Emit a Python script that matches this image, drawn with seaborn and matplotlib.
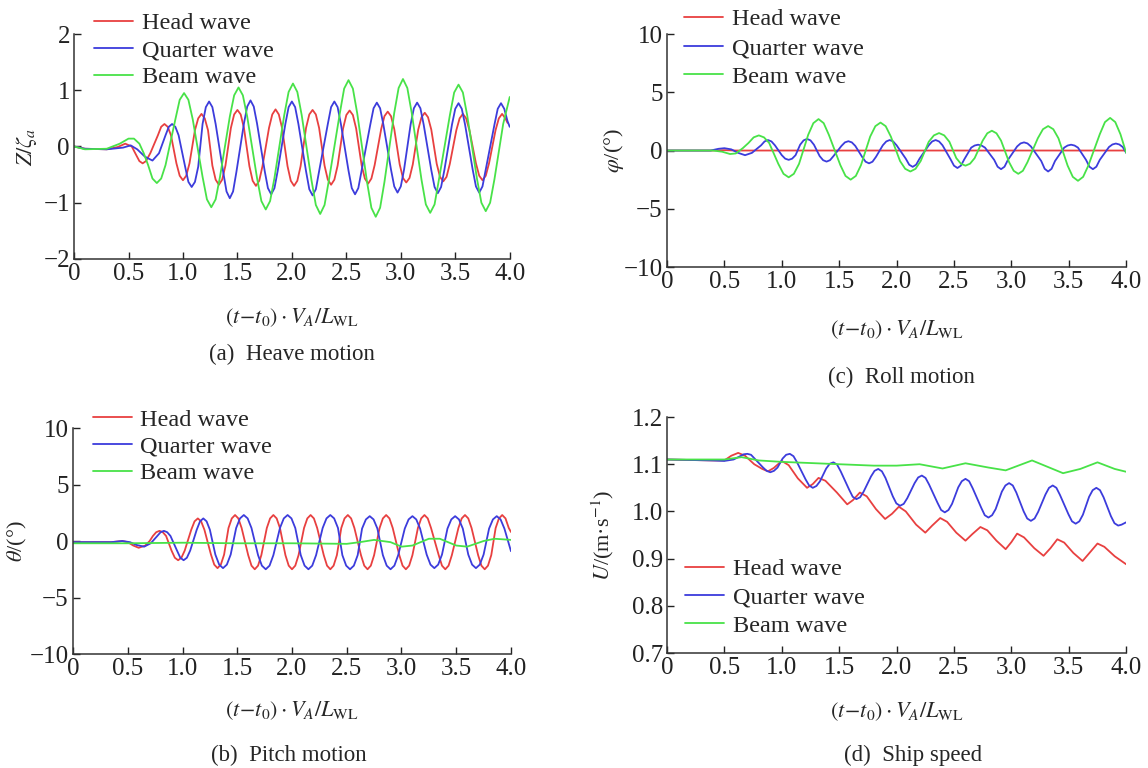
import matplotlib
matplotlib.use("Agg")
import matplotlib.pyplot as plt
import seaborn as sns
import pandas as pd

wave_names = ["Head wave", "Quarter wave", "Beam wave"]
xtick_vals = [0, 0.5, 1.0, 1.5, 2.0, 2.5, 3.0, 3.5, 4.0]
xtick_labels = ["0", "0.5", "1.0", "1.5", "2.0", "2.5", "3.0", "3.5", "4.0"]

# (a) heave Z/zeta_a (peaks, troughs and flanks)
heave_head_t = [0, 0.1, 0.3, 0.4, 0.47, 0.53, 0.57, 0.6, 0.63, 0.66, 0.7,
                0.77, 0.80, 0.83, 0.86, 0.89, 0.94, 0.97, 1.00, 1.03, 1.06,
                1.11, 1.14, 1.17, 1.20, 1.23, 1.27, 1.30, 1.33, 1.36, 1.39,
                1.44, 1.47, 1.50, 1.53, 1.56, 1.61, 1.64, 1.67, 1.70, 1.73,
                1.79, 1.82, 1.85, 1.88, 1.91, 1.96, 1.99, 2.02, 2.05, 2.08,
                2.13, 2.16, 2.19, 2.22, 2.25, 2.30, 2.33, 2.36, 2.39, 2.42,
                2.47, 2.50, 2.53, 2.56, 2.59, 2.64, 2.67, 2.70, 2.73, 2.76,
                2.82, 2.85, 2.88, 2.91, 2.94, 2.99, 3.02, 3.05, 3.08, 3.11,
                3.16, 3.19, 3.22, 3.25, 3.28, 3.33, 3.36, 3.39, 3.42, 3.45,
                3.51, 3.54, 3.57, 3.60, 3.63, 3.69, 3.72, 3.75, 3.78, 3.81,
                3.87, 3.90, 3.93, 3.96, 3.98]
heave_head = [0, -0.04, -0.05, -0.01, 0.05, 0.0, -0.15, -0.26, -0.3, -0.26, -0.12,
              0.2, 0.35, 0.4, 0.35, 0.2, -0.3, -0.52, -0.6, -0.52, -0.3,
              0.29, 0.5, 0.58, 0.5, 0.29, -0.34, -0.59, -0.68, -0.59, -0.34,
              0.33, 0.57, 0.65, 0.57, 0.33, -0.35, -0.61, -0.7, -0.61, -0.35,
              0.33, 0.57, 0.66, 0.57, 0.33, -0.35, -0.61, -0.7, -0.61, -0.35,
              0.33, 0.57, 0.65, 0.57, 0.33, -0.34, -0.59, -0.68, -0.59, -0.34,
              0.32, 0.56, 0.64, 0.56, 0.32, -0.33, -0.57, -0.66, -0.57, -0.33,
              0.31, 0.54, 0.62, 0.54, 0.31, -0.32, -0.56, -0.64, -0.56, -0.32,
              0.3, 0.52, 0.6, 0.52, 0.3, -0.31, -0.54, -0.62, -0.54, -0.31,
              0.29, 0.5, 0.58, 0.5, 0.29, -0.3, -0.52, -0.6, -0.52, -0.3,
              0.29, 0.5, 0.58, 0.5, 0.42]
heave_quarter_t = [0, 0.1, 0.3, 0.45, 0.52, 0.58, 0.65, 0.72, 0.78,
                   0.84, 0.87, 0.90, 0.93, 0.96, 1.02, 1.05, 1.08, 1.11, 1.14,
                   1.18, 1.21, 1.24, 1.27, 1.30, 1.37, 1.40, 1.43, 1.46, 1.49,
                   1.56, 1.59, 1.62, 1.65, 1.68, 1.75, 1.78, 1.81, 1.84, 1.87,
                   1.94, 1.97, 2.00, 2.03, 2.06, 2.13, 2.16, 2.19, 2.22, 2.25,
                   2.33, 2.36, 2.39, 2.42, 2.45, 2.52, 2.55, 2.58, 2.61, 2.64,
                   2.72, 2.75, 2.78, 2.81, 2.84, 2.91, 2.94, 2.97, 3.00, 3.03,
                   3.09, 3.12, 3.15, 3.18, 3.21, 3.28, 3.31, 3.34, 3.37, 3.40,
                   3.47, 3.50, 3.53, 3.56, 3.59, 3.66, 3.69, 3.72, 3.75, 3.78,
                   3.86, 3.89, 3.92, 3.95, 3.98, 4.0]
heave_quarter = [0, -0.04, -0.05, -0.02, 0.02, -0.05, -0.18, -0.25, -0.12,
                 0.2, 0.35, 0.4, 0.35, 0.2, -0.36, -0.63, -0.72, -0.63, -0.36,
                 0.4, 0.7, 0.8, 0.7, 0.4, -0.46, -0.8, -0.92, -0.8, -0.46,
                 0.41, 0.71, 0.82, 0.71, 0.41, -0.43, -0.74, -0.85, -0.74, -0.43,
                 0.4, 0.7, 0.8, 0.7, 0.4, -0.44, -0.76, -0.87, -0.76, -0.44,
                 0.4, 0.7, 0.8, 0.7, 0.4, -0.43, -0.74, -0.85, -0.74, -0.43,
                 0.39, 0.68, 0.78, 0.68, 0.39, -0.41, -0.71, -0.82, -0.71, -0.41,
                 0.39, 0.68, 0.78, 0.68, 0.39, -0.42, -0.72, -0.83, -0.72, -0.42,
                 0.39, 0.67, 0.77, 0.67, 0.39, -0.41, -0.71, -0.82, -0.71, -0.41,
                 0.39, 0.67, 0.77, 0.67, 0.45, 0.35]
heave_beam_t = [0, 0.1, 0.3, 0.42, 0.5, 0.55, 0.6, 0.64,
                0.68, 0.72, 0.76, 0.80, 0.84, 0.93, 0.97, 1.01, 1.05, 1.09,
                1.18, 1.22, 1.26, 1.30, 1.34, 1.43, 1.47, 1.51, 1.55, 1.59,
                1.68, 1.72, 1.76, 1.80, 1.84, 1.93, 1.97, 2.01, 2.05, 2.09,
                2.18, 2.22, 2.26, 2.30, 2.34, 2.44, 2.48, 2.52, 2.56, 2.60,
                2.69, 2.73, 2.77, 2.81, 2.85, 2.94, 2.98, 3.02, 3.06, 3.10,
                3.19, 3.23, 3.27, 3.31, 3.35, 3.45, 3.49, 3.53, 3.57, 3.61,
                3.70, 3.74, 3.78, 3.82, 3.86, 3.94, 4.0]
heave_beam = [0, -0.05, -0.04, 0.05, 0.14, 0.14, 0.05, -0.12,
              -0.33, -0.57, -0.65, -0.57, -0.33, 0.48, 0.83, 0.95, 0.83, 0.48,
              -0.54, -0.94, -1.08, -0.94, -0.54, 0.53, 0.91, 1.05, 0.91, 0.53,
              -0.56, -0.97, -1.12, -0.97, -0.56, 0.56, 0.97, 1.12, 0.97, 0.56,
              -0.6, -1.04, -1.2, -1.04, -0.6, 0.59, 1.03, 1.18, 1.03, 0.59,
              -0.63, -1.09, -1.25, -1.09, -0.63, 0.6, 1.04, 1.2, 1.04, 0.6,
              -0.59, -1.03, -1.18, -1.03, -0.59, 0.55, 0.96, 1.1, 0.96, 0.55,
              -0.58, -1.0, -1.15, -1.0, -0.58, 0.4, 0.88]

# (c) roll phi (deg)
roll_head_t = [0, 0.4, 0.5, 0.6, 4.0]
roll_head = [0, 0, 0.03, 0, 0]
roll_quarter_t = [0, 0.38, 0.45, 0.5, 0.56, 0.62, 0.68, 0.74,
                  0.82, 0.85, 0.88, 0.91, 0.94, 1.00, 1.03, 1.06, 1.09, 1.12,
                  1.16, 1.19, 1.22, 1.25, 1.28, 1.33, 1.36, 1.39, 1.42, 1.45,
                  1.52, 1.55, 1.58, 1.61, 1.64, 1.70, 1.73, 1.76, 1.79, 1.82,
                  1.88, 1.91, 1.94, 1.97, 2.00, 2.08, 2.11, 2.14, 2.17, 2.20,
                  2.28, 2.31, 2.34, 2.37, 2.40, 2.47, 2.50, 2.53, 2.56, 2.59,
                  2.65, 2.68, 2.71, 2.74, 2.77, 2.85, 2.88, 2.91, 2.94, 2.97,
                  3.05, 3.08, 3.11, 3.14, 3.17, 3.26, 3.29, 3.32, 3.35, 3.38,
                  3.46, 3.49, 3.52, 3.55, 3.58, 3.65, 3.68, 3.71, 3.74, 3.77,
                  3.85, 3.88, 3.91, 3.94, 3.97, 4.0]
roll_quarter = [0, 0, 0.15, 0.2, 0.1, -0.2, -0.4, -0.2,
                0.45, 0.78, 0.9, 0.78, 0.45, -0.4, -0.7, -0.8, -0.7, -0.4,
                0.5, 0.87, 1.0, 0.87, 0.5, -0.48, -0.83, -0.95, -0.83, -0.48,
                0.4, 0.7, 0.8, 0.7, 0.4, -0.55, -0.96, -1.1, -0.96, -0.55,
                0.45, 0.78, 0.9, 0.78, 0.45, -0.7, -1.22, -1.4, -1.22, -0.7,
                0.45, 0.78, 0.9, 0.78, 0.45, -0.75, -1.3, -1.5, -1.3, -0.75,
                0.25, 0.43, 0.5, 0.43, 0.25, -0.8, -1.39, -1.6, -1.39, -0.8,
                0.35, 0.61, 0.7, 0.61, 0.35, -0.9, -1.57, -1.8, -1.57, -0.9,
                0.25, 0.43, 0.5, 0.43, 0.25, -0.8, -1.39, -1.6, -1.39, -0.8,
                0.3, 0.52, 0.6, 0.52, 0.3, -0.2]
roll_beam_t = [0, 0.4, 0.48, 0.55, 0.6, 0.66,
               0.71, 0.755, 0.80, 0.845, 0.89, 0.97, 1.015, 1.06, 1.105, 1.15,
               1.23, 1.275, 1.32, 1.365, 1.41, 1.51, 1.555, 1.60, 1.645, 1.69,
               1.77, 1.815, 1.86, 1.905, 1.95, 2.03, 2.075, 2.12, 2.165, 2.21,
               2.28, 2.325, 2.37, 2.415, 2.46, 2.52, 2.56, 2.60, 2.64, 2.68,
               2.75, 2.79, 2.83, 2.87, 2.91, 2.98, 3.02, 3.06, 3.10, 3.14,
               3.23, 3.275, 3.32, 3.365, 3.41, 3.49, 3.535, 3.58, 3.625, 3.67,
               3.77, 3.815, 3.86, 3.905, 3.95, 4.0]
roll_beam = [0, 0, -0.1, -0.3, -0.25, 0.2,
             0.65, 1.13, 1.3, 1.13, 0.65, -1.15, -2.0, -2.3, -2.0, -1.15,
             1.35, 2.35, 2.7, 2.35, 1.35, -1.25, -2.18, -2.5, -2.18, -1.25,
             1.2, 2.09, 2.4, 2.09, 1.2, -0.9, -1.57, -1.8, -1.57, -0.9,
             0.75, 1.3, 1.5, 1.3, 0.75, -0.65, -1.13, -1.3, -1.13, -0.65,
             0.85, 1.48, 1.7, 1.48, 0.85, -1.0, -1.74, -2.0, -1.74, -1.0,
             1.05, 1.83, 2.1, 1.83, 1.05, -1.3, -2.26, -2.6, -2.26, -1.3,
             1.4, 2.44, 2.8, 2.44, 1.4, -0.2]

# (b) pitch theta (deg)
pitch_head_t = [0, 0.35, 0.45, 0.5, 0.55, 0.6, 0.66, 0.70,
                0.73, 0.76, 0.79, 0.82, 0.85, 0.90, 0.93, 0.96, 0.99, 1.02,
                1.08, 1.11, 1.14, 1.17, 1.20, 1.26, 1.29, 1.32, 1.35, 1.38,
                1.42, 1.45, 1.48, 1.51, 1.54, 1.60, 1.63, 1.66, 1.69, 1.72,
                1.77, 1.80, 1.83, 1.86, 1.89, 1.94, 1.97, 2.00, 2.03, 2.06,
                2.11, 2.14, 2.17, 2.20, 2.23, 2.29, 2.32, 2.35, 2.38, 2.41,
                2.45, 2.48, 2.51, 2.54, 2.57, 2.63, 2.66, 2.69, 2.72, 2.75,
                2.80, 2.83, 2.86, 2.89, 2.92, 2.98, 3.01, 3.04, 3.07, 3.10,
                3.15, 3.18, 3.21, 3.24, 3.27, 3.34, 3.37, 3.40, 3.43, 3.46,
                3.52, 3.55, 3.58, 3.61, 3.64, 3.70, 3.73, 3.76, 3.79, 3.82,
                3.86, 3.89, 3.92, 3.95, 3.98, 4.0]
pitch_head = [-0.1, -0.1, 0.0, -0.1, -0.4, -0.6, -0.4, 0.0,
              0.45, 0.78, 0.9, 0.78, 0.45, -0.85, -1.48, -1.7, -1.48, -0.85,
              1.0, 1.74, 2.0, 1.74, 1.0, -1.2, -2.09, -2.4, -2.09, -1.2,
              1.15, 2.0, 2.3, 2.0, 1.15, -1.25, -2.18, -2.5, -2.18, -1.25,
              1.15, 2.0, 2.3, 2.0, 1.15, -1.25, -2.18, -2.5, -2.18, -1.25,
              1.15, 2.0, 2.3, 2.0, 1.15, -1.25, -2.18, -2.5, -2.18, -1.25,
              1.15, 2.0, 2.3, 2.0, 1.15, -1.25, -2.18, -2.5, -2.18, -1.25,
              1.15, 2.0, 2.3, 2.0, 1.15, -1.25, -2.18, -2.5, -2.18, -1.25,
              1.15, 2.0, 2.3, 2.0, 1.15, -1.25, -2.18, -2.5, -2.18, -1.25,
              1.15, 2.0, 2.3, 2.0, 1.15, -1.25, -2.18, -2.5, -2.18, -1.25,
              1.15, 2.0, 2.3, 2.0, 1.15, 0.8]
pitch_quarter_t = [0, 0.35, 0.45, 0.52, 0.58, 0.65, 0.71,
                   0.77, 0.80, 0.83, 0.86, 0.89, 0.95, 0.98, 1.01, 1.04, 1.07,
                   1.13, 1.16, 1.19, 1.22, 1.25, 1.30, 1.335, 1.37, 1.405, 1.44,
                   1.49, 1.525, 1.56, 1.595, 1.63, 1.69, 1.725, 1.76, 1.795, 1.83,
                   1.89, 1.925, 1.96, 1.995, 2.03, 2.08, 2.115, 2.15, 2.185, 2.22,
                   2.28, 2.315, 2.35, 2.385, 2.42, 2.46, 2.495, 2.53, 2.565, 2.60,
                   2.64, 2.675, 2.71, 2.745, 2.78, 2.83, 2.865, 2.90, 2.935, 2.97,
                   3.03, 3.065, 3.10, 3.135, 3.17, 3.23, 3.265, 3.30, 3.335, 3.37,
                   3.42, 3.455, 3.49, 3.525, 3.56, 3.61, 3.645, 3.68, 3.715, 3.75,
                   3.80, 3.835, 3.87, 3.905, 3.94, 4.0]
pitch_quarter = [-0.1, -0.1, 0.0, -0.1, -0.35, -0.5, -0.2,
                 0.45, 0.78, 0.9, 0.78, 0.45, -0.85, -1.48, -1.7, -1.48, -0.85,
                 1.0, 1.74, 2.0, 1.74, 1.0, -1.2, -2.09, -2.4, -2.09, -1.2,
                 1.15, 2.0, 2.3, 2.0, 1.15, -1.25, -2.18, -2.5, -2.18, -1.25,
                 1.15, 2.0, 2.3, 2.0, 1.15, -1.25, -2.18, -2.5, -2.18, -1.25,
                 1.15, 2.0, 2.3, 2.0, 1.15, -1.25, -2.18, -2.5, -2.18, -1.25,
                 1.1, 1.91, 2.2, 1.91, 1.1, -1.25, -2.18, -2.5, -2.18, -1.25,
                 1.1, 1.91, 2.2, 1.91, 1.1, -1.2, -2.09, -2.4, -2.09, -1.2,
                 1.1, 1.91, 2.2, 1.91, 1.1, -1.2, -2.09, -2.4, -2.09, -1.2,
                 1.1, 1.91, 2.2, 1.91, 1.1, -0.9]
pitch_beam_t = [0, 0.5, 1.0, 1.5, 2.0, 2.5, 2.62, 2.75, 2.9, 3.0, 3.1, 3.25, 3.35, 3.5, 3.6, 3.75, 3.85, 4.0]
pitch_beam = [-0.2, -0.2, -0.15, -0.2, -0.2, -0.25, -0.1, 0.1, -0.1, -0.5, -0.4, 0.2, 0.2, -0.4, -0.5, 0.0, 0.2, 0.1]

# (d) ship speed U (m/s)
speed_head_t = [0, 0.4, 0.5, 0.56, 0.62, 0.68, 0.76, 0.83, 0.88, 0.93, 1.0, 1.06, 1.14, 1.22, 1.27, 1.32,
                1.38, 1.48, 1.57, 1.62, 1.68, 1.74, 1.82, 1.9, 1.96, 2.02, 2.08, 2.17, 2.25, 2.31, 2.38,
                2.44, 2.52, 2.6, 2.66, 2.73, 2.79, 2.87, 2.95, 3.0, 3.05, 3.11, 3.2, 3.28, 3.34, 3.4,
                3.46, 3.54, 3.62, 3.68, 3.75, 3.81, 3.9, 4.0]
speed_head = [1.11, 1.108, 1.108, 1.118, 1.124, 1.118, 1.1, 1.09, 1.085, 1.092, 1.107, 1.098, 1.07, 1.05, 1.058, 1.071,
              1.065, 1.04, 1.015, 1.024, 1.04, 1.032, 1.005, 0.984, 0.995, 1.01, 1.0, 0.972, 0.955, 0.97, 0.986,
              0.978, 0.955, 0.938, 0.952, 0.967, 0.96, 0.938, 0.92, 0.935, 0.953, 0.945, 0.922, 0.906, 0.922, 0.941,
              0.934, 0.912, 0.895, 0.912, 0.932, 0.925, 0.905, 0.888]
speed_quarter_t = [0, 0.4, 0.5, 0.58,
                   0.637, 0.668, 0.70, 0.732, 0.763, 0.837, 0.868, 0.90, 0.932, 0.963,
                   1.007, 1.038, 1.07, 1.102, 1.133, 1.207, 1.238, 1.27, 1.302, 1.333,
                   1.387, 1.418, 1.45, 1.482, 1.513, 1.587, 1.618, 1.65, 1.682, 1.713,
                   1.777, 1.808, 1.84, 1.872, 1.903, 1.967, 1.998, 2.03, 2.062, 2.093,
                   2.157, 2.188, 2.22, 2.252, 2.283, 2.357, 2.388, 2.42, 2.452, 2.483,
                   2.537, 2.568, 2.60, 2.632, 2.663, 2.737, 2.768, 2.80, 2.832, 2.863,
                   2.917, 2.948, 2.98, 3.012, 3.043, 3.107, 3.138, 3.17, 3.202, 3.233,
                   3.297, 3.328, 3.36, 3.392, 3.423, 3.497, 3.528, 3.56, 3.592, 3.623,
                   3.677, 3.708, 3.74, 3.772, 3.803, 3.867, 3.898, 3.93, 3.96, 4.0]
speed_quarter = [1.11, 1.108, 1.107, 1.11,
                 1.117, 1.121, 1.122, 1.12, 1.112, 1.093, 1.086, 1.083, 1.086, 1.093,
                 1.112, 1.12, 1.122, 1.117, 1.104, 1.068, 1.055, 1.05, 1.054, 1.064,
                 1.091, 1.101, 1.104, 1.099, 1.085, 1.046, 1.031, 1.026, 1.03, 1.042,
                 1.074, 1.086, 1.09, 1.085, 1.071, 1.032, 1.017, 1.012, 1.016, 1.028,
                 1.06, 1.072, 1.076, 1.071, 1.057, 1.018, 1.003, 0.998, 1.003, 1.016,
                 1.051, 1.064, 1.069, 1.064, 1.049, 1.008, 0.992, 0.987, 0.992, 1.005,
                 1.042, 1.055, 1.06, 1.055, 1.04, 1.0, 0.985, 0.98, 0.985, 0.999,
                 1.036, 1.05, 1.055, 1.05, 1.035, 0.994, 0.979, 0.974, 0.979, 0.993,
                 1.031, 1.045, 1.05, 1.045, 1.03, 0.99, 0.975, 0.97, 0.972, 0.977]
speed_beam_t = [0, 0.5, 0.65, 0.8, 1.0, 1.5, 1.8, 2.0, 2.2, 2.4, 2.6, 2.8, 2.95, 3.18, 3.45, 3.6, 3.75, 3.9, 4.0]
speed_beam = [1.11, 1.11, 1.115, 1.108, 1.105, 1.10, 1.097, 1.097, 1.10, 1.091, 1.102, 1.093, 1.087, 1.108,
              1.081, 1.09, 1.104, 1.09, 1.084]

sns.set_theme(style="ticks")
plt.rcParams["font.family"] = ["Liberation Serif", "DejaVu Serif"]
plt.rcParams["mathtext.fontset"] = "stix"
plt.rcParams["xtick.direction"] = "in"
plt.rcParams["ytick.direction"] = "in"
plt.rcParams["axes.linewidth"] = 1.1
plt.rcParams["axes.edgecolor"] = "#333333"

palette = {"Head wave": "#e84040", "Quarter wave": "#3c3cdc", "Beam wave": "#48e248"}
xlabel = r"$(t\!-\!t_0)\cdot V_A/L_{\mathrm{WL}}$"


def make_frame(ts, ys):
    parts = [pd.DataFrame({"t": t, "v": y, "Wave": n}) for n, t, y in zip(wave_names, ts, ys)]
    return pd.concat(parts, ignore_index=True)


def draw_panel(ax, df, ylim, yticks, yticklabels, ylabel, ylab_x, xlab_y, leg_anchor, leg_space):
    sns.lineplot(data=df, x="t", y="v", hue="Wave", hue_order=wave_names, palette=palette,
                 estimator=None, sort=False, linewidth=1.3, ax=ax)
    ax.set_xlim(0, 4)
    ax.set_ylim(*ylim)
    ax.set_xticks(xtick_vals)
    ax.set_xticklabels(xtick_labels)
    ax.set_yticks(yticks)
    ax.set_yticklabels(yticklabels)
    ax.tick_params(labelsize=18, length=5, width=1.0, pad=3, colors="#222222")
    sns.despine(ax=ax)
    ax.set_ylabel(ylabel, fontsize=16)
    ax.yaxis.set_label_coords(ylab_x, 0.5)
    ax.set_xlabel(xlabel, fontsize=16)
    ax.xaxis.set_label_coords(0.5, xlab_y)
    handles, labels = ax.get_legend_handles_labels()
    ax.legend(handles, labels, loc="upper left", bbox_to_anchor=leg_anchor,
              bbox_transform=ax.figure.transFigure, frameon=False, fontsize=17.5,
              borderpad=0, borderaxespad=0, labelspacing=leg_space, handlelength=1.6,
              handletextpad=0.35)


fig = plt.figure(figsize=(11.48, 7.68), dpi=100)
ax_a = fig.add_axes([0.0645, 0.6628, 0.3795, 0.2929])
ax_c = fig.add_axes([0.581, 0.6523, 0.400, 0.3034])
ax_b = fig.add_axes([0.0636, 0.1484, 0.3815, 0.2943])
ax_d = fig.add_axes([0.581, 0.1497, 0.400, 0.3073])

draw_panel(ax_a, make_frame([heave_head_t, heave_quarter_t, heave_beam_t], [heave_head, heave_quarter, heave_beam]),
           (-2, 2), [-2, -1, 0, 1, 2], ["\u22122", "\u22121", "0", "1", "2"],
           r"$Z/\zeta_a$", -0.08, -0.21, (0.082, 0.984), 0.2)
draw_panel(ax_c, make_frame([roll_head_t, roll_quarter_t, roll_beam_t], [roll_head, roll_quarter, roll_beam]),
           (-10, 10), [-10, -5, 0, 5, 10], ["\u221210", "\u22125", "0", "5", "10"],
           r"$\varphi$/(°)", -0.09, -0.22, (0.596, 0.989), 0.27)
draw_panel(ax_b, make_frame([pitch_head_t, pitch_quarter_t, pitch_beam_t], [pitch_head, pitch_quarter, pitch_beam]),
           (-10, 10), [-10, -5, 0, 5, 10], ["\u221210", "\u22125", "0", "5", "10"],
           r"$\theta$/(°)", -0.10, -0.20, (0.081, 0.468), 0.2)
draw_panel(ax_d, make_frame([speed_head_t, speed_quarter_t, speed_beam_t], [speed_head, speed_quarter, speed_beam]),
           (0.7, 1.2), [0.7, 0.8, 0.9, 1.0, 1.1, 1.2], ["0.7", "0.8", "0.9", "1.0", "1.1", "1.2"],
           r"$U$/(m·s$^{-1}$)", -0.11, -0.20, (0.597, 0.273), 0.25)

fig.text(0.254, 0.538, "(a)  Heave motion", ha="center", va="center", fontsize=16.5)
fig.text(0.785, 0.509, "(c)  Roll motion", ha="center", va="center", fontsize=16.5)
fig.text(0.252, 0.016, "(b)  Pitch motion", ha="center", va="center", fontsize=16.5)
fig.text(0.795, 0.016, "(d)  Ship speed", ha="center", va="center", fontsize=16.5)

fig.savefig("out.png", dpi=100)
